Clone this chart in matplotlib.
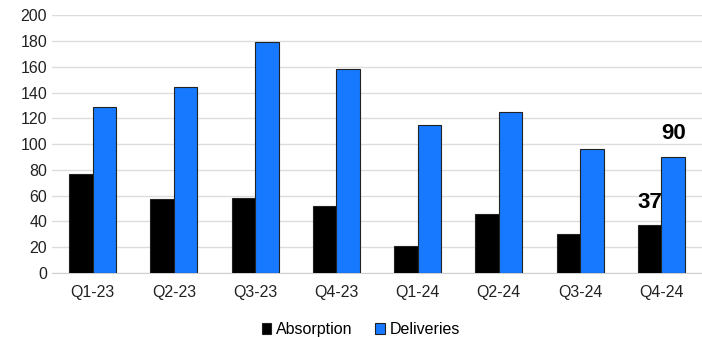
import numpy as np
import matplotlib.pyplot as plt

quarters = ['Q1-23', 'Q2-23', 'Q3-23', 'Q4-23', 'Q1-24', 'Q2-24', 'Q3-24', 'Q4-24']
absorption = [77, 57, 58, 52, 21, 46, 30, 37]
deliveries = [129, 144, 179, 158, 115, 125, 96, 90]

plt.rcParams['font.family'] = ['Liberation Sans', 'DejaVu Sans']

fig = plt.figure(figsize=(7.02, 3.37), dpi=100)
ax = fig.add_axes([0.074, 0.19, 0.926, 0.765])

x = np.arange(len(quarters))
w = 0.29
ax.bar(x - w / 2, absorption, w, color='black', edgecolor='#222222', linewidth=0.8,
       label='Absorption', zorder=3)
ax.bar(x + w / 2, deliveries, w, color='#1779FF', edgecolor='#222222', linewidth=0.8,
       label='Deliveries', zorder=3)

# value labels on the last quarter
ax.annotate(str(absorption[-1]), (x[-1] - w / 2, absorption[-1]), xytext=(0, 9),
            textcoords='offset points', ha='center', va='bottom',
            fontsize=16, fontweight='bold')
ax.annotate(str(deliveries[-1]), (x[-1] + w / 2, deliveries[-1]), xytext=(0, 9),
            textcoords='offset points', ha='center', va='bottom',
            fontsize=16, fontweight='bold')

ax.set_xlim(-0.5, len(quarters) - 0.5)
ax.set_ylim(0, 200)
ax.set_yticks(range(0, 201, 20))
ax.set_xticks(x)
ax.set_xticklabels(quarters)
ax.tick_params(axis='both', length=0, labelsize=11.5, colors='#222222')
ax.tick_params(axis='x', pad=9)
ax.grid(axis='y', color='#dcdcdc', linewidth=1, zorder=0)
for s in ['top', 'right', 'left']:
    ax.spines[s].set_visible(False)
ax.spines['bottom'].set_color('#d0d0d0')

ax.legend(loc='upper center', bbox_to_anchor=(0.475, -0.135), ncol=2, frameon=False,
          fontsize=11.5, handlelength=0.6, handleheight=0.6, handletextpad=0.3,
          columnspacing=1.4)

fig.savefig('out.png', dpi=100)
